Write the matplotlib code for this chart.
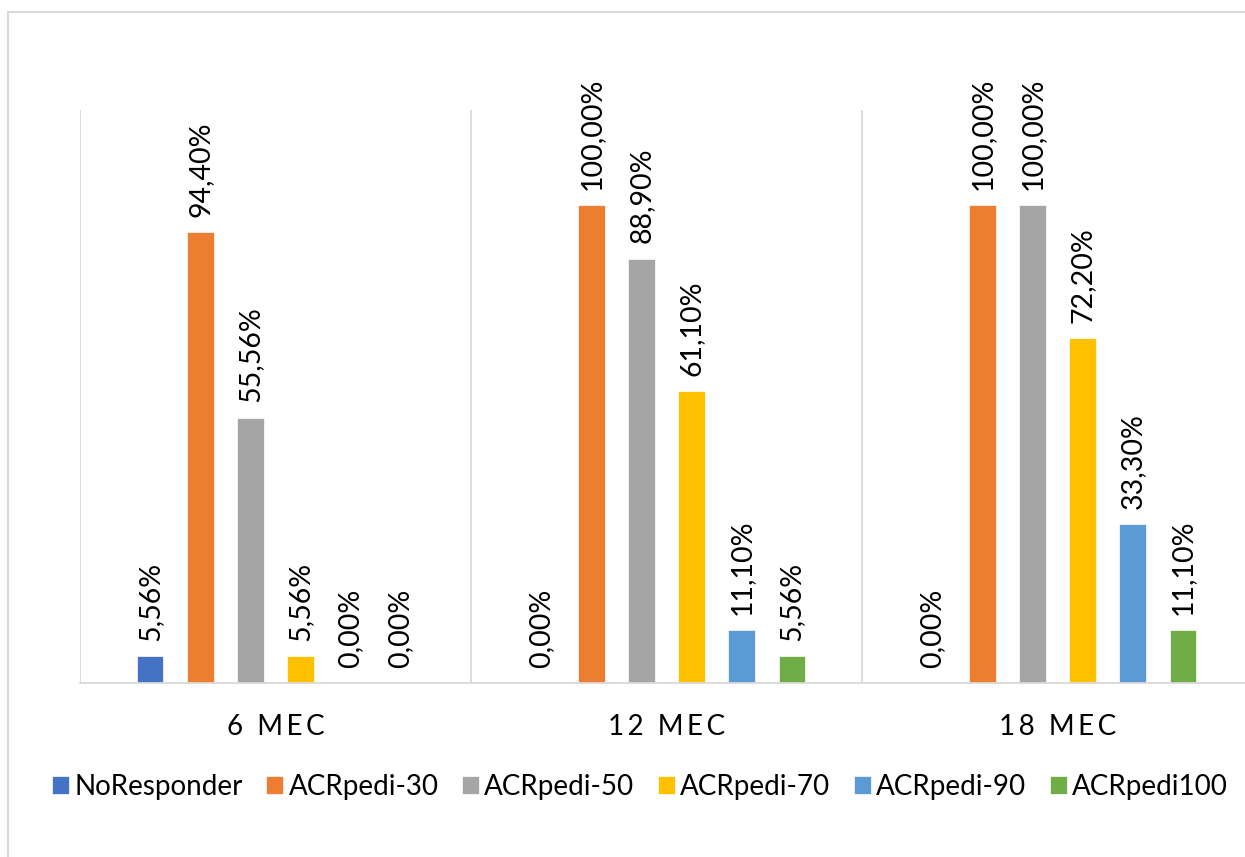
import numpy as np
import matplotlib
matplotlib.use("Agg")
import matplotlib.pyplot as plt
from matplotlib.patches import Rectangle

plt.rcParams['font.family'] = ['Lato', 'DejaVu Sans']

# data (percent)
periods = ["6 MEC", "12 MEC", "18 MEC"]
series = ["NoResponder", "ACRpedi-30", "ACRpedi-50", "ACRpedi-70", "ACRpedi-90", "ACRpedi100"]
no_responder = [5.56, 0.00, 0.00]
acr30 = [94.40, 100.00, 100.00]
acr50 = [55.56, 88.90, 100.00]
acr70 = [5.56, 61.10, 72.20]
acr90 = [0.00, 11.10, 33.30]
acr100 = [0.00, 5.56, 11.10]
values = [no_responder, acr30, acr50, acr70, acr90, acr100]
colors = ["#4472C4", "#ED7D31", "#A5A5A5", "#FFC000", "#5B9BD5", "#70AD47"]

W, H = 1245, 857
fig = plt.figure(figsize=(W / 100, H / 100), dpi=100)
ax = fig.add_axes([80 / W, (H - 683) / H, 1173 / W, 573 / H])

x = np.arange(len(periods))
step = 0.128
bw = 0.067
for i, (name, vals, c) in enumerate(zip(series, values, colors)):
    pos = x + (i - 2.5) * step
    ax.bar(pos, vals, width=bw, color=c, edgecolor='white', linewidth=0.5, label=name)
    for p, v in zip(pos, vals):
        txt = f"{v:.2f}%".replace('.', ',')
        ax.annotate(txt, (p, v), xytext=(0, 11), textcoords='offset points',
                    rotation=90, ha='center', va='bottom', fontsize=20.5, color='#000000')

# category dividers
for d in [-0.5, 0.5, 1.5, 2.5]:
    ax.axvline(d, color='#D9D9D9', lw=1.3, zorder=0)

ax.set_xlim(-0.5, 2.5)
ax.set_ylim(0, 120)
for s in ['top', 'left', 'right']:
    ax.spines[s].set_visible(False)
ax.spines['bottom'].set_color('#D9D9D9')
ax.spines['bottom'].set_linewidth(1.3)
ax.set_yticks([])
spaced = ["\u2009".join(p) for p in periods]
ax.set_xticks(x)
ax.set_xticklabels(spaced, fontsize=20)
ax.tick_params(axis='x', length=0, pad=22)

fig.legend(loc='center', bbox_to_anchor=(640 / W, 1 - 787 / H), ncol=6, frameon=False,
           fontsize=20, handlelength=0.6, handleheight=0.6, handletextpad=0.2,
           columnspacing=0.85)

fig.patches.append(Rectangle((8 / W, -0.1), 1.2, (H - 12) / H + 0.1, transform=fig.transFigure,
                             fill=False, edgecolor='#D9D9D9', linewidth=1.5))

fig.savefig("out.png", dpi=100, facecolor='white')
